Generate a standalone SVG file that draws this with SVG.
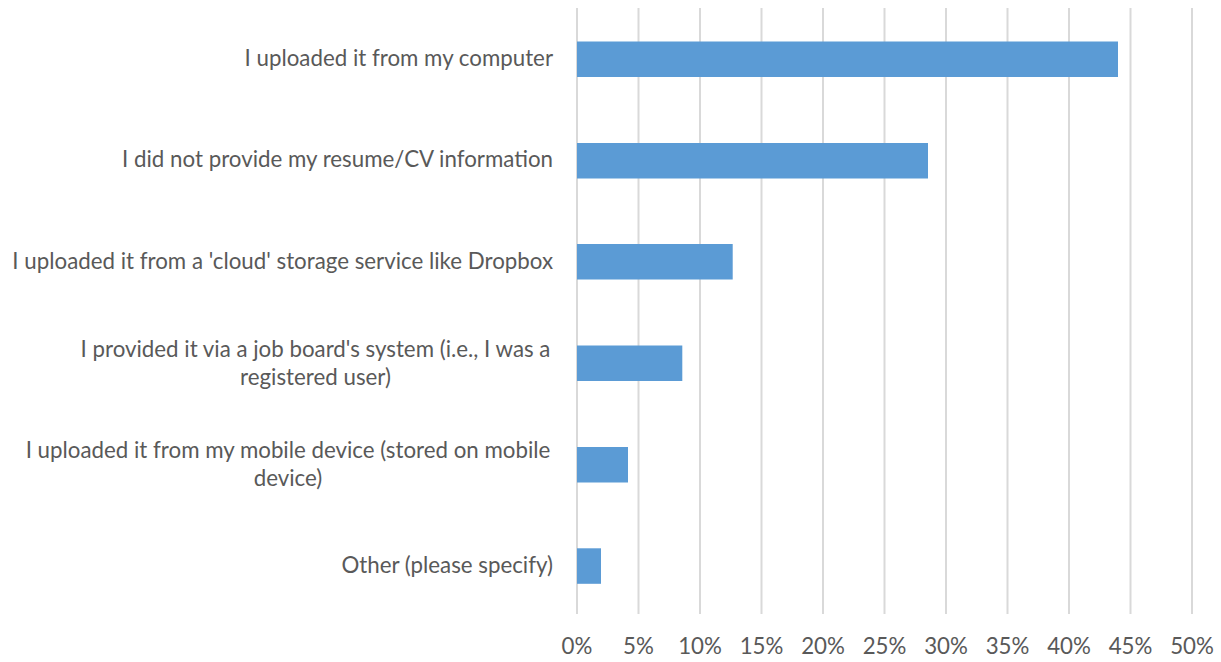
<svg xmlns="http://www.w3.org/2000/svg" width="1221" height="662" viewBox="0 0 1221 662">
<style>
.grid{stroke:#d9d9d9;stroke-width:2}
.bar{fill:#5b9bd5}
.lbl{font-family:"Lato","Liberation Sans",sans-serif;font-size:22.3px;fill:#595959}
.end{text-anchor:end}
.mid{text-anchor:middle}
</style>
<rect width="1221" height="662" fill="#ffffff"/>
<g id="gridlines">
<line class="grid" x1="577" y1="8" x2="577" y2="614"/>
<line class="grid" x1="638.5" y1="8" x2="638.5" y2="614"/>
<line class="grid" x1="700" y1="8" x2="700" y2="614"/>
<line class="grid" x1="761.5" y1="8" x2="761.5" y2="614"/>
<line class="grid" x1="823" y1="8" x2="823" y2="614"/>
<line class="grid" x1="884.5" y1="8" x2="884.5" y2="614"/>
<line class="grid" x1="946" y1="8" x2="946" y2="614"/>
<line class="grid" x1="1007.5" y1="8" x2="1007.5" y2="614"/>
<line class="grid" x1="1069" y1="8" x2="1069" y2="614"/>
<line class="grid" x1="1130.5" y1="8" x2="1130.5" y2="614"/>
<line class="grid" x1="1192" y1="8" x2="1192" y2="614"/>
</g>
<g id="bar1"><rect class="bar" x="577" y="41.5" width="541" height="35.5"/><text class="lbl end" x="553" y="66">I uploaded it from my computer</text></g>
<g id="bar2"><rect class="bar" x="577" y="143" width="351" height="35.5"/><text class="lbl end" x="553" y="167">I did not provide my resume/CV information</text></g>
<g id="bar3"><rect class="bar" x="577" y="244" width="155.7" height="35.5"/><text class="lbl end" x="553" y="269">I uploaded it from a 'cloud' storage service like Dropbox</text></g>
<g id="bar4"><rect class="bar" x="577" y="345.5" width="105.3" height="35.5"/><text class="lbl mid" x="315.5" y="357">I provided it via a job board's system (i.e., I was a</text><text class="lbl mid" x="315.5" y="385">registered user)</text></g>
<g id="bar5"><rect class="bar" x="577" y="447" width="51" height="35.5"/><text class="lbl mid" x="288" y="458">I uploaded it from my mobile device (stored on mobile</text><text class="lbl mid" x="288" y="486">device)</text></g>
<g id="bar6"><rect class="bar" x="577" y="548.3" width="24" height="35.5"/><text class="lbl end" x="553" y="573">Other (please specify)</text></g>
<g id="axis">
<text class="lbl mid" x="577" y="654">0%</text>
<text class="lbl mid" x="638.5" y="654">5%</text>
<text class="lbl mid" x="700" y="654">10%</text>
<text class="lbl mid" x="761.5" y="654">15%</text>
<text class="lbl mid" x="823" y="654">20%</text>
<text class="lbl mid" x="884.5" y="654">25%</text>
<text class="lbl mid" x="946" y="654">30%</text>
<text class="lbl mid" x="1007.5" y="654">35%</text>
<text class="lbl mid" x="1069" y="654">40%</text>
<text class="lbl mid" x="1130.5" y="654">45%</text>
<text class="lbl mid" x="1192" y="654">50%</text>
</g>
</svg>
